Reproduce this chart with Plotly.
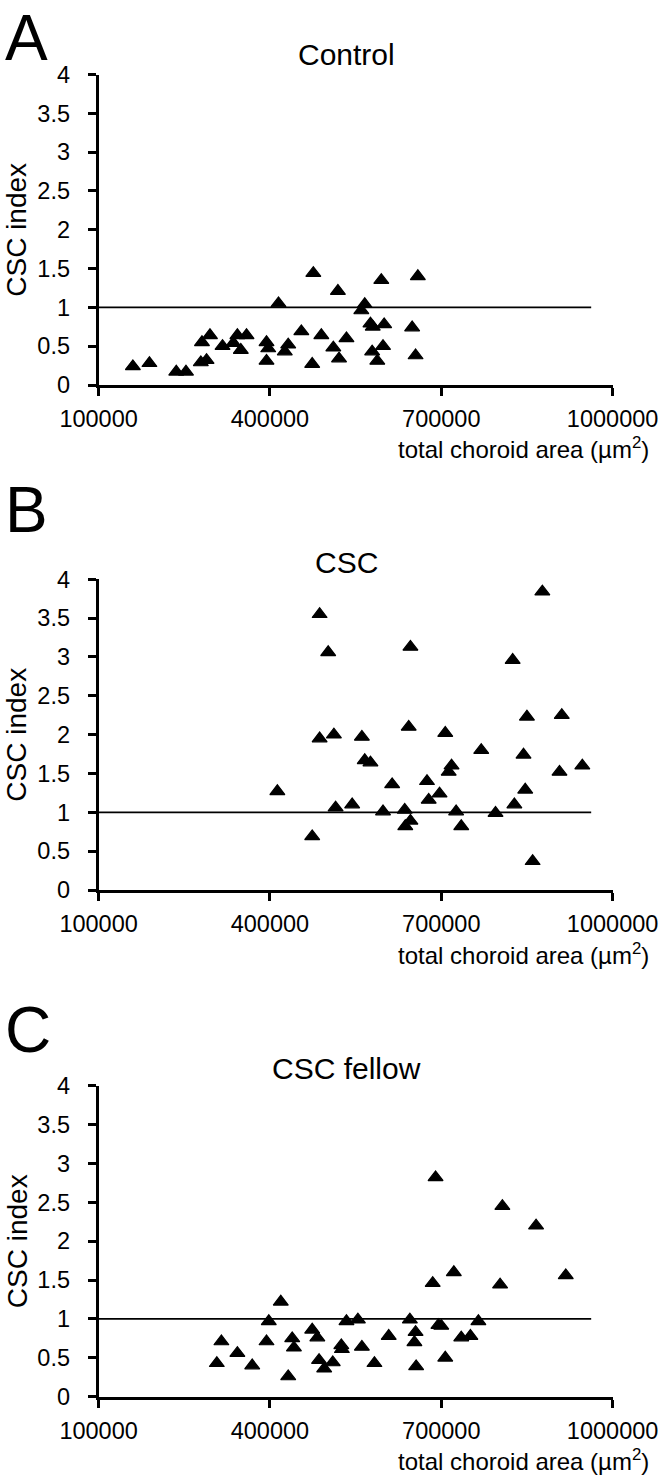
import plotly.graph_objects as go

# ---------------- data ----------------
control_x = [160000, 189000, 236000, 253000, 279000, 289000, 281000, 295000, 317000, 336000,
             343000, 349000, 359000, 394000, 397000, 394000, 415000, 426000, 432000, 455000,
             476000, 474000, 490000, 511000, 519000, 521000, 534000, 560000, 566000, 576000,
             580000, 579000, 588000, 595000, 600000, 598000, 649000, 655000, 659000]
control_y = [0.24, 0.28, 0.17, 0.17, 0.29, 0.32, 0.55, 0.64, 0.50, 0.54,
             0.64, 0.45, 0.64, 0.55, 0.47, 0.31, 1.05, 0.43, 0.52, 0.69,
             1.44, 0.27, 0.64, 0.48, 1.21, 0.34, 0.60, 0.96, 1.04, 0.79,
             0.75, 0.43, 0.31, 1.35, 0.78, 0.50, 0.74, 0.38, 1.40]

csc_x = [413000, 474000, 487000, 487000, 502000, 512000, 515000, 544000, 561000, 566000,
         576000, 598000, 614000, 636000, 637000, 646000, 643000, 646000, 675000, 678000,
         697000, 707000, 713000, 718000, 726000, 735000, 770000, 795000, 825000, 828000,
         844000, 847000, 850000, 860000, 877000, 907000, 911000, 947000]
csc_y = [1.27, 0.69, 3.55, 1.95, 3.06, 2.00, 1.06, 1.10, 1.97, 1.67,
         1.64, 1.01, 1.36, 1.03, 0.82, 0.89, 2.10, 3.13, 1.40, 1.16,
         1.24, 2.02, 1.52, 1.60, 1.01, 0.82, 1.80, 0.99, 2.96, 1.10,
         1.74, 1.29, 2.23, 0.37, 3.84, 1.52, 2.25, 1.60]

fellow_x = [307000, 315000, 343000, 369000, 394000, 398000, 419000, 432000, 439000, 442000,
            474000, 483000, 486000, 495000, 510000, 525000, 526000, 534000, 554000, 561000,
            583000, 608000, 645000, 655000, 653000, 656000, 685000, 690000, 695000, 700000,
            707000, 722000, 735000, 751000, 765000, 803000, 807000, 866000, 918000]
fellow_y = [0.43, 0.71, 0.56, 0.40, 0.71, 0.97, 1.22, 0.26, 0.75, 0.63,
            0.86, 0.76, 0.47, 0.36, 0.44, 0.66, 0.61, 0.97, 0.99, 0.64,
            0.43, 0.78, 0.99, 0.83, 0.70, 0.39, 1.46, 2.82, 0.92, 0.91,
            0.50, 1.60, 0.76, 0.78, 0.97, 1.44, 2.45, 2.20, 1.56]

ref_x = [100000, 962500]
ref_y = [1, 1]

x_tickvals = [100000, 400000, 700000, 1000000]
x_ticktext = ["100000", "400000", "700000", "1000000"]
y_tickvals = [0, 0.5, 1, 1.5, 2, 2.5, 3, 3.5, 4]
y_ticktext = ["0", "0.5", "1", "1.5", "2", "2.5", "3", "3.5", "4"]

panel_letters = ["A", "B", "C"]
panel_titles = ["Control", "CSC", "CSC fellow"]
x_title = "total choroid area (µm<sup>2</sup>)"
y_title = "CSC index"

# ---------------- layout (pixels) ----------------
W, H = 666, 1482
PX0, PX1 = 98.6, 612.6
panels_px = [(74.5, 385.0), (579.3, 890.0), (1085.7, 1396.7)]  # (y of 4, y of 0)
# (pixel y, vertical anchor) of each panel letter
letter_pos = [(0, "top"), (510, "middle"), (1030, "middle")]
title_cy = [54.5, 562, 1068]
FONT = "Liberation Sans, Arial, Helvetica, sans-serif"


def fx(px):
    return px / W


def fy(py):
    return 1 - py / H


fig = go.Figure()
series = [(control_x, control_y), (csc_x, csc_y), (fellow_x, fellow_y)]
annotations = []

for i, ((xs, ys), (top, bot)) in enumerate(zip(series, panels_px)):
    n = "" if i == 0 else str(i + 1)
    xa, ya = "x" + n, "y" + n
    fig.add_trace(go.Scatter(x=ref_x, y=ref_y, mode="lines",
                             line=dict(color="black", width=1.7),
                             xaxis=xa, yaxis=ya, showlegend=False, hoverinfo="skip"))
    fig.add_trace(go.Scatter(x=xs, y=ys, mode="markers",
                             marker=dict(symbol="triangle-up", size=13, color="black",
                                         line=dict(color="black", width=1.2)),
                             xaxis=xa, yaxis=ya, showlegend=False))
    axis_common = dict(showline=True, linecolor="black", linewidth=2.8,
                       ticks="outside", ticklen=8, tickwidth=2.8, tickcolor="black",
                       showgrid=False, zeroline=False, automargin=False,
                       tickfont=dict(family=FONT, size=23.5, color="black"))
    fig.layout["xaxis" + n] = dict(domain=[fx(PX0), fx(PX1)], range=[100000, 1000000],
                                   anchor=ya, tickvals=x_tickvals, ticktext=x_ticktext,
                                   ticklabelstandoff=3, **axis_common)
    fig.layout["yaxis" + n] = dict(domain=[fy(bot), fy(top)], range=[0, 4],
                                   anchor=xa, tickvals=y_tickvals, ticktext=y_ticktext,
                                   ticklabelstandoff=13, **axis_common)
    # panel letter
    ly, lanchor = letter_pos[i]
    annotations.append(dict(text=panel_letters[i], x=fx(3), y=fy(ly), xref="paper",
                            yref="paper", xanchor="left", yanchor=lanchor, showarrow=False,
                            font=dict(family=FONT, size=64, color="black")))
    # panel title
    annotations.append(dict(text=panel_titles[i], x=fx(346.5), y=fy(title_cy[i]), xref="paper",
                            yref="paper", xanchor="center", yanchor="middle", showarrow=False,
                            font=dict(family=FONT, size=30, color="black")))
    # y title
    annotations.append(dict(text=y_title, x=fx(17), y=fy((top + bot) / 2), xref="paper",
                            yref="paper", xanchor="center", yanchor="middle", showarrow=False,
                            textangle=-90, font=dict(family=FONT, size=28, color="black")))
    # x title
    annotations.append(dict(text=x_title, x=fx(651), y=fy(bot + 63.5), xref="paper",
                            yref="paper", xanchor="right", yanchor="middle", showarrow=False,
                            font=dict(family=FONT, size=24, color="black")))

fig.update_layout(width=W, height=H,
                  margin=dict(l=0, r=0, t=0, b=0, pad=0, autoexpand=False),
                  paper_bgcolor="white", plot_bgcolor="white",
                  annotations=annotations, showlegend=False)

fig.write_html("out.html", config={"displayModeBar": False},
               post_script="document.body.style.margin='0';document.body.style.padding='0';")
